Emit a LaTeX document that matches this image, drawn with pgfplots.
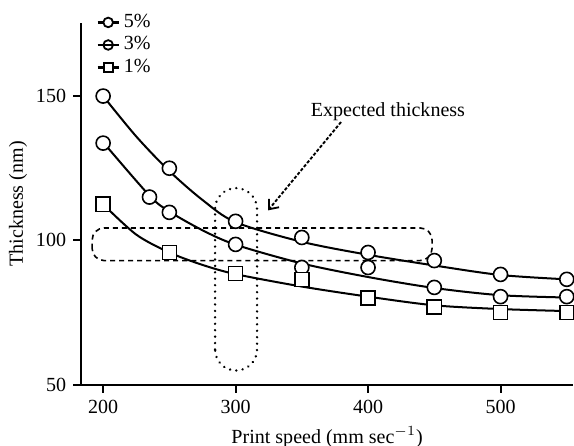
\documentclass[border=0pt]{standalone}
\usepackage{fontspec}
\setmainfont{Liberation Serif}
\usepackage{pgfplots}
\pgfplotsset{compat=1.18}
\usetikzlibrary{arrows.meta}

\begin{document}
\begin{tikzpicture}
\begin{axis}[
  scale only axis, width=245.5pt, height=180.5pt,
  xmin=183.4, xmax=554.7, ymin=50, ymax=175.3,
  axis x line*=bottom, axis y line*=left,
  axis line style={line width=1pt},
  xtick={200,300,400,500}, ytick={50,100,150},
  tick align=outside, major tick length=4pt,
  tick style={line width=1pt, black},
  /pgf/number format/assume math mode=true,
  xlabel={Print speed (mm sec$^{-1}$)},
  ylabel={Thickness (nm)},
  xlabel style={at={(axis description cs:0.5,-0.145)}, anchor=center},
  ylabel style={at={(axis description cs:-0.128,0.5)}, anchor=center},
  clip=false,
  legend style={draw=none, fill=none, at={(axis description cs:0.0305,1)}, anchor=north west, yshift=6pt,
    inner sep=0pt, row sep=0.25pt,
    nodes={inner sep=0.5pt, text height=7.5pt, text depth=2.5pt, anchor=west},
    /tikz/every odd column/.style={column sep=1.5pt}},
  legend image code/.code={\draw[mark repeat=2,mark phase=2,#1] plot coordinates {(0cm,0cm)(0.185cm,0cm)(0.37cm,0cm)};},
]
\addlegendimage{black, line width=1.1pt, mark=*, mark size=2.4pt, mark options={fill=white, line width=0.9pt}}
\addlegendentry{5\%}
\addlegendimage{black, line width=1.1pt, mark=o, mark size=2.4pt, mark options={line width=0.9pt}}
\addlegendentry{3\%}
\addlegendimage{black, line width=1.1pt, mark=square*, mark size=2.2pt, mark options={fill=white, line width=0.9pt}}
\addlegendentry{1\%}

% fitted curves
\addplot[black, line width=1pt, smooth, forget plot] coordinates {
(200,150)(225,136)(250,124)(275,114)(300,106.3)(350,99.5)(400,95)(450,91.3)(500,88)(550,86.5)};
\addplot[black, line width=1pt, smooth, forget plot] coordinates {
(200,134)(235,115.5)(250,110)(275,103.5)(300,98.5)(350,92)(400,87.3)(450,83.5)(500,81)(550,80.2)};
\addplot[black, line width=1pt, smooth, forget plot] coordinates {
(200,112.5)(225,102)(250,95.8)(275,91.5)(300,88.3)(350,84)(400,80.5)(450,77.5)(500,76.2)(550,75.5)};

% data markers
\addplot[only marks, mark=*, mark size=3.5pt, mark options={fill=white, draw=black, line width=0.8pt}, forget plot] coordinates {
(200,150)(250,125)(300,106.6)(350,101)(400,95.8)(450,93)(500,88.2)(550,86.5)};
\addplot[only marks, mark=*, mark size=3.5pt, mark options={fill=white, draw=black, line width=0.8pt}, forget plot] coordinates {
(200,133.7)(235,115)(250,109.7)(300,98.6)(350,90.6)(400,90.6)(450,83.7)(500,80.5)(550,80.5)};
\addplot[only marks, mark=square*, mark size=3.5pt, mark options={fill=white, draw=black, line width=0.8pt}, forget plot] coordinates {
(200,112.5)(250,95.8)(300,88.5)(350,86.5)(400,80)(450,77)(500,75)(550,75)};

% annotations
\draw[line width=0.8pt, dash pattern=on 2.5pt off 2pt, rounded corners=6pt]
  (axis cs:191.7,93) rectangle (axis cs:448.3,104.3);
\draw[line width=1.3pt, dash pattern=on 0.01pt off 3.2pt, line cap=round, rounded corners=10.5pt]
  (axis cs:284.5,54.9) rectangle (axis cs:316.2,118.1);
\node[font=\normalsize, inner sep=0pt] at (axis cs:415,144.6) {Expected thickness};
\draw[line width=0.95pt, dash pattern=on 1.6pt off 0.9pt, -{Straight Barb[length=4pt,width=6.5pt,line width=0.9pt]}]
  (axis cs:379.6,141) -- (axis cs:324.5,110.4);

\coordinate (ll) at (rel axis cs:0,0);
\coordinate (ur) at (rel axis cs:1,1);
\end{axis}
\pgfresetboundingbox
\path ([xshift=-40.5pt,yshift=-30.5pt]ll) rectangle ([xshift=0.5pt,yshift=11.5pt]ur);
\end{tikzpicture}
\end{document}
